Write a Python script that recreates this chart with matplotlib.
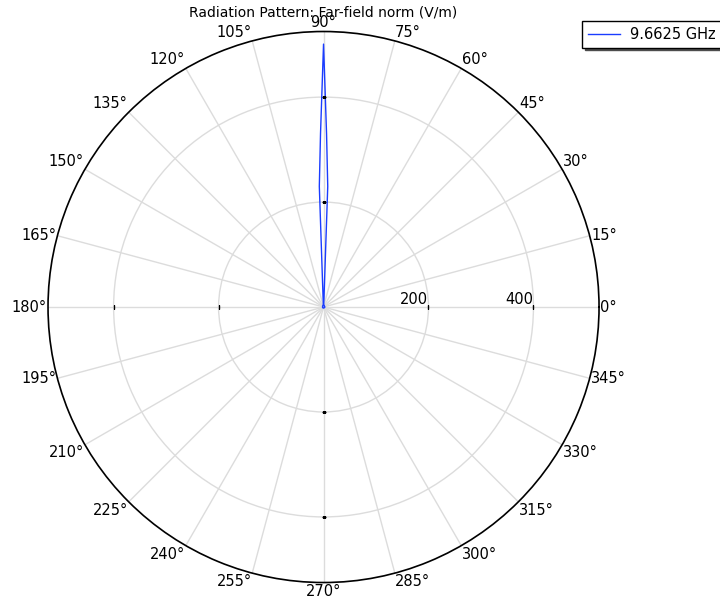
import matplotlib.pyplot as plt
import numpy as np

# far-field norm (V/m) vs angle (deg), 9.6625 GHz
ang = [0, 30, 60, 80, 85, 86, 87, 88, 89, 90, 91, 92, 93, 94, 95, 100, 120, 150, 180, 210, 240, 270, 300, 330, 360]
val = [2, 2, 3, 4, 5, 6, 15, 230, 330, 501, 330, 230, 15, 6, 5, 4, 3, 2, 2, 2, 2, 2, 2, 2, 2]
rticks = [200, 400]
rmax = 525
theta_ticks = list(range(0, 360, 15))
freq_label = "9.6625 GHz"

fig = plt.figure(figsize=(7.2, 5.99), dpi=100)
ax = fig.add_axes([0.0667, 0.0275, 0.7653, 0.9199], projection='polar')

ax.plot(np.deg2rad(ang), val, color='#1a3cff', lw=1.0, label=freq_label)

ax.set_ylim(0, rmax)
ax.set_rticks(rticks)
ax.set_yticklabels([])
for r in rticks:
    ax.text(0, r, str(r), ha='right', va='bottom', fontsize=10.5)
# small tick marks on the radial axes
for a in [0, 90, 180, 270]:
    t = np.deg2rad(a)
    ax.plot([t] * len(rticks), rticks, ls='none', marker=(2, 0, a), color='black', ms=3, mew=1)

ax.set_thetagrids(theta_ticks)
ax.set_xticklabels([])
for d in theta_ticks:
    t = np.deg2rad(d)
    c, s = np.cos(t), np.sin(t)
    ha = 'left' if c > 0.1 else ('right' if c < -0.1 else 'center')
    va = 'bottom' if s > 0.4 else ('top' if s < -0.4 else 'center')
    ax.annotate(f"{d}°", (t, rmax), xytext=(c * 1, s * 1), textcoords='offset points',
                ha=ha, va=va, fontsize=10.5, annotation_clip=False)
ax.grid(True, color='#dcdcdc', lw=1)
ax.spines['polar'].set_color('black')
ax.spines['polar'].set_linewidth(1.2)

fig.text(323 / 720, 1 - 12 / 599, "Radiation Pattern: Far-field norm (V/m)", ha='center', va='center', fontsize=10)

leg = fig.legend(loc='upper left', bbox_to_anchor=(582 / 720, 1 - 21 / 599), fontsize=10.5,
                 handlelength=2.2, handletextpad=0.7, fancybox=False,
                 shadow={'color': '0.3', 'alpha': 1}, framealpha=1, borderaxespad=0)
leg.get_frame().set_edgecolor('black')

fig.savefig('out.png', dpi=100)
